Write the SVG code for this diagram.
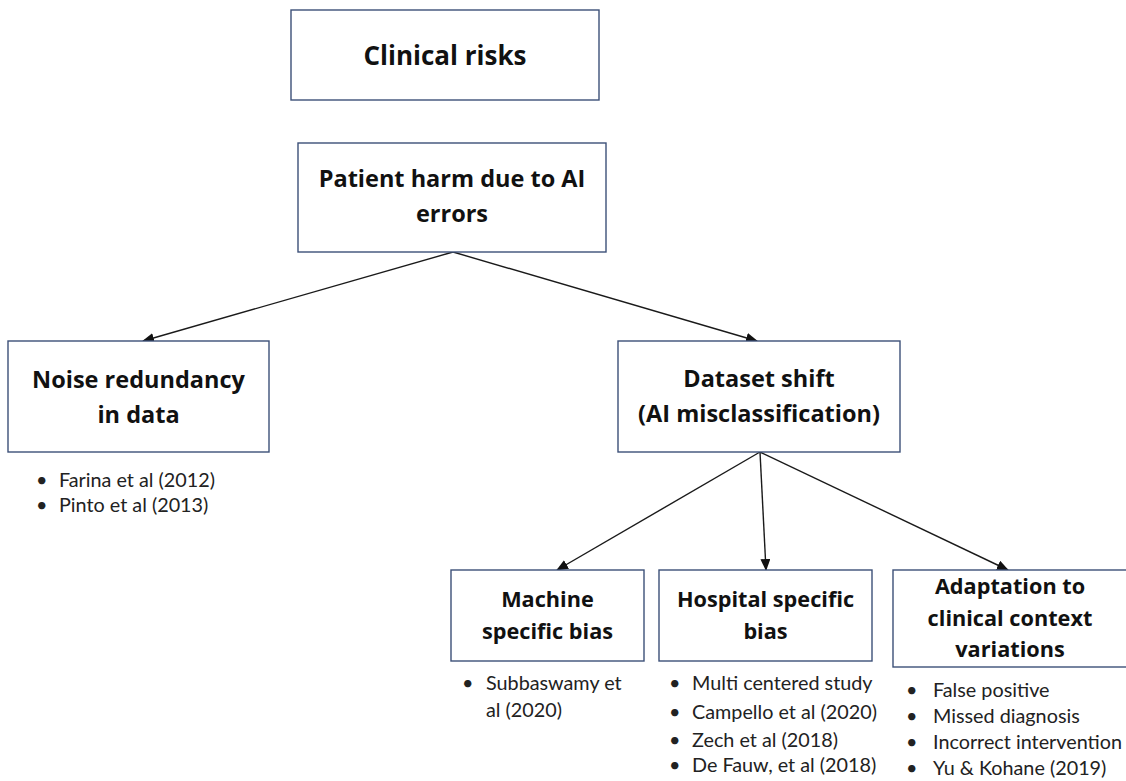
<svg xmlns="http://www.w3.org/2000/svg" width="1126" height="781" viewBox="0 0 1126 781">
<style>
.box{fill:#ffffff;stroke:#3C5078;stroke-width:1.4}
.t{font-family:"Open Sans",Lato,"Liberation Sans",sans-serif;font-weight:bold;font-size:23.5px;fill:#111;text-anchor:middle}
.big{font-size:26px}
.sm{font-size:21.7px}
.b{font-family:Lato,"Open Sans","Liberation Sans",sans-serif;font-size:19.8px;fill:#222}
.c{stroke:#1a1a1a;stroke-width:1.4;fill:none}
</style>
<defs>
<marker id="ah" markerUnits="userSpaceOnUse" markerWidth="12" markerHeight="10" refX="11" refY="5" orient="auto">
<path d="M0,0 L12,5 L0,10 Z" fill="#111"/>
</marker>
</defs>
<rect width="1126" height="781" fill="#ffffff"/>
<g id="connectors">
<line class="c" x1="453" y1="252" x2="143" y2="341" marker-end="url(#ah)"/>
<line class="c" x1="453" y1="252" x2="757" y2="341" marker-end="url(#ah)"/>
<line class="c" x1="760" y1="452" x2="557" y2="570" marker-end="url(#ah)"/>
<line class="c" x1="760" y1="452" x2="766" y2="570" marker-end="url(#ah)"/>
<line class="c" x1="760" y1="452" x2="1008" y2="570" marker-end="url(#ah)"/>
</g>
<g id="clinical-risks">
<rect class="box" x="291" y="10" width="308" height="90"/>
<text class="t big" x="445" y="65">Clinical risks</text>
</g>
<g id="patient-harm">
<rect class="box" x="298" y="143" width="308" height="109"/>
<text class="t" x="452" y="187">Patient harm due to AI</text>
<text class="t" x="452" y="222">errors</text>
</g>
<g id="noise-redundancy">
<rect class="box" x="8" y="341" width="261" height="111"/>
<text class="t" x="138.5" y="388">Noise redundancy</text>
<text class="t" x="138.5" y="423">in data</text>
<text class="b" x="36" y="487">•</text><text class="b" x="59" y="487">Farina et al (2012)</text>
<text class="b" x="36" y="512">•</text><text class="b" x="59" y="512">Pinto et al (2013)</text>
</g>
<g id="dataset-shift">
<rect class="box" x="618" y="341" width="282" height="111"/>
<text class="t" x="759" y="387">Dataset shift</text>
<text class="t" x="759" y="422">(AI misclassification)</text>
</g>
<g id="machine-bias">
<rect class="box" x="451" y="570" width="193" height="91"/>
<text class="t sm" x="547.5" y="607">Machine</text>
<text class="t sm" x="547.5" y="639">specific bias</text>
<text class="b" x="462" y="690">•</text><text class="b" x="486" y="690">Subbaswamy et</text>
<text class="b" x="486" y="717">al (2020)</text>
</g>
<g id="hospital-bias">
<rect class="box" x="659" y="570" width="213" height="91"/>
<text class="t sm" x="765.5" y="607">Hospital specific</text>
<text class="t sm" x="765.5" y="639">bias</text>
<text class="b" x="669" y="690">•</text><text class="b" x="692" y="690">Multi centered study</text>
<text class="b" x="669" y="719">•</text><text class="b" x="692" y="719">Campello et al (2020)</text>
<text class="b" x="669" y="747">•</text><text class="b" x="692" y="747">Zech et al (2018)</text>
<text class="b" x="669" y="772">•</text><text class="b" x="692" y="772">De Fauw, et al (2018)</text>
</g>
<g id="adaptation">
<rect class="box" x="893" y="570" width="240" height="97"/>
<text class="t sm" x="1010" y="594">Adaptation to</text>
<text class="t sm" x="1010" y="626">clinical context</text>
<text class="t sm" x="1010" y="657">variations</text>
<text class="b" x="906" y="697">•</text><text class="b" x="933" y="697">False positive</text>
<text class="b" x="906" y="723">•</text><text class="b" x="933" y="723">Missed diagnosis</text>
<text class="b" x="906" y="749">•</text><text class="b" x="933" y="749">Incorrect intervention</text>
<text class="b" x="906" y="775">•</text><text class="b" x="933" y="775">Yu &amp; Kohane (2019)</text>
</g>
</svg>
